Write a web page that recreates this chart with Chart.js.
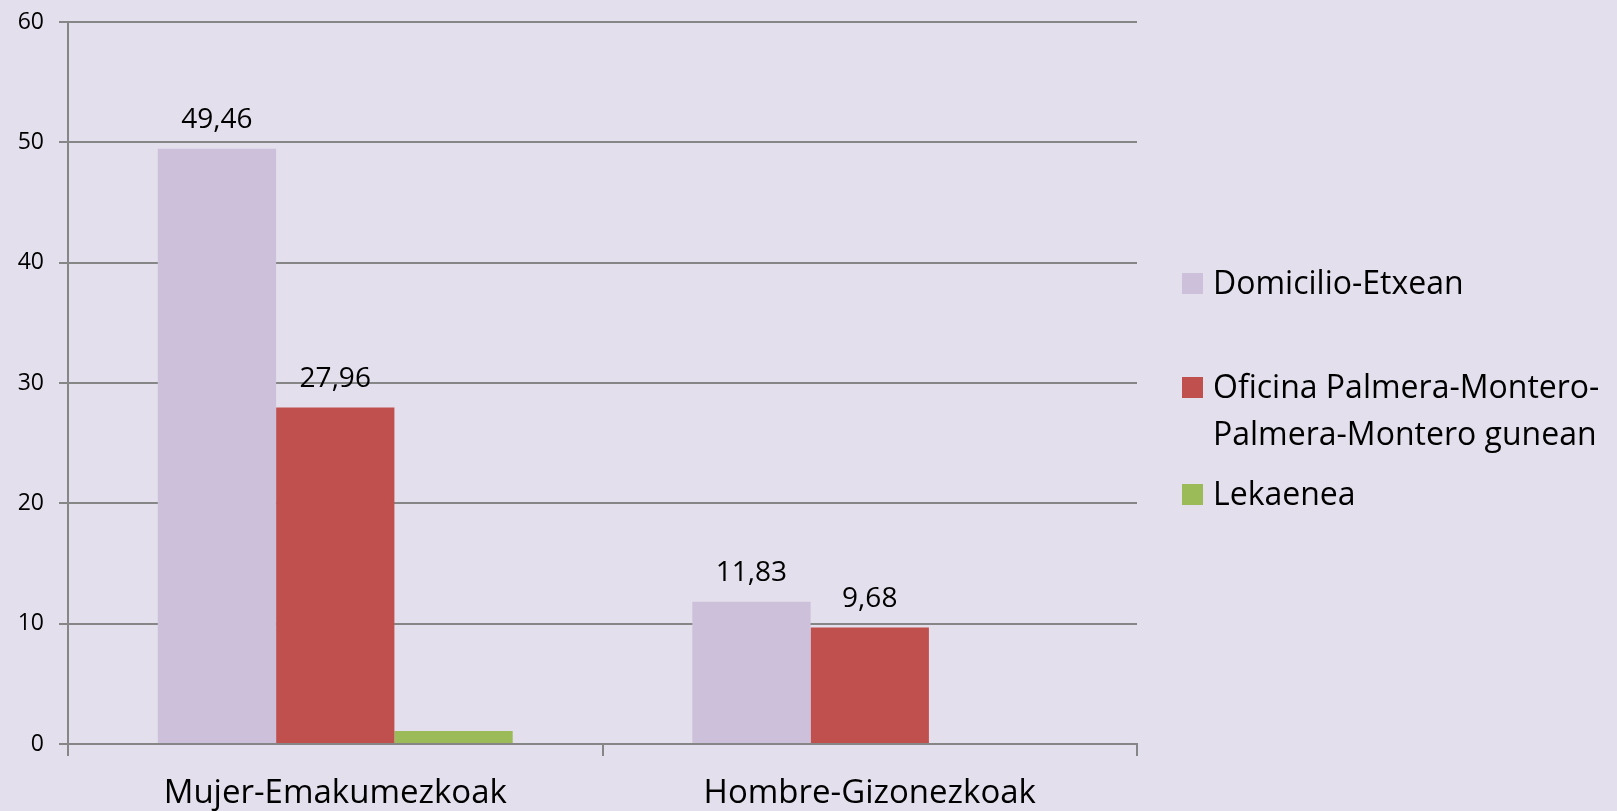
<!DOCTYPE html>
<html>
<head>
<meta charset="utf-8">
<script src="https://cdn.jsdelivr.net/npm/chart.js@4.4.1/dist/chart.umd.min.js"></script>
<style>
  html, body { margin: 0; padding: 0; background: #E4DFEC; }
  #wrap { position: relative; width: 1617px; height: 811px; background: #E4DFEC; }
  canvas { position: absolute; left: 0; top: 0; }
  .lg { position: absolute; left: 1182px; font-family: "Open Sans", sans-serif; font-size: 32px; color: #000; line-height: 47px; }
  .lg .sw { position: absolute; left: 0; width: 21px; height: 21px; }
  .lg .tx { position: absolute; left: 31px; top: 0; white-space: nowrap; }
</style>
</head>
<body>
<div id="wrap">
  <canvas id="c" width="1617" height="811"></canvas>
  <div id="legend"></div>
</div>
<script>
const categories = ["Mujer-Emakumezkoak", "Hombre-Gizonezkoak"];
const seriesNames = ["Domicilio-Etxean", ["Oficina Palmera-Montero-", "Palmera-Montero gunean"], "Lekaenea"];
const domicilio = [49.46, 11.83];
const oficina = [27.96, 9.68];
const lekaenea = [1.08, null];
const valueLabels = [["49,46", "11,83"], ["27,96", "9,68"], [null, null]];
const yTicks = [0, 10, 20, 30, 40, 50, 60];
const colors = ["#CCC0DA", "#C0504D", "#9BBB59"];

const FONT = "'Open Sans', sans-serif";

const dataLabelPlugin = {
  id: "dataLabels",
  afterDatasetsDraw(chart) {
    const ctx = chart.ctx;
    ctx.save();
    ctx.font = "28px " + FONT;
    ctx.fillStyle = "#000";
    ctx.textAlign = "center";
    ctx.textBaseline = "alphabetic";
    chart.data.datasets.forEach((ds, di) => {
      const meta = chart.getDatasetMeta(di);
      meta.data.forEach((bar, i) => {
        const lab = valueLabels[di][i];
        if (!lab) return;
        ctx.fillText(lab, bar.x, bar.y - 21);
      });
    });
    ctx.restore();
  }
};

const ctx = document.getElementById("c").getContext("2d");
new Chart(ctx, {
  type: "bar",
  data: {
    labels: categories,
    datasets: [
      { label: "Domicilio-Etxean", data: domicilio, backgroundColor: colors[0] },
      { label: "Oficina Palmera-Montero-Palmera-Montero gunean", data: oficina, backgroundColor: colors[1] },
      { label: "Lekaenea", data: lekaenea, backgroundColor: colors[2] }
    ]
  },
  options: {
    responsive: false,
    animation: false,
    devicePixelRatio: 1,
    layout: { padding: { left: 0, right: 480, top: 22, bottom: 0 } },
    datasets: { bar: { barPercentage: 1.0, categoryPercentage: 0.664, borderWidth: 0 } },
    plugins: { legend: { display: false }, tooltip: { enabled: false } },
    scales: {
      x: {
        grid: { offset: true, drawOnChartArea: false, color: "#868686", lineWidth: 2, tickLength: 12 },
        border: { display: true, color: "#868686", width: 2 },
        ticks: { color: "#000", font: { family: FONT, size: 33 }, padding: 18, maxRotation: 0 },
        afterFit(s) { s.height = 67; s.paddingLeft = 0; s.paddingRight = 0; }
      },
      y: {
        min: 0, max: 60,
        afterBuildTicks(s) { s.ticks = yTicks.map(v => ({ value: v })); },
        grid: { color: "#868686", lineWidth: 2, tickLength: 9 },
        border: { display: true, color: "#868686", width: 2 },
        ticks: { color: "#000", font: { family: FONT, size: 23 }, padding: 15 },
        afterFit(s) { s.width = 68; s.paddingTop = 0; s.paddingBottom = 0; }
      }
    }
  },
  plugins: [dataLabelPlugin]
});

// HTML legend
const legend = document.getElementById("legend");
const legendTops = [258, 362, 469];
seriesNames.forEach((name, i) => {
  const item = document.createElement("div");
  item.className = "lg";
  item.style.top = legendTops[i] + "px";
  const sw = document.createElement("div");
  sw.className = "sw";
  sw.style.background = colors[i];
  sw.style.top = "15px";
  const tx = document.createElement("div");
  tx.className = "tx";
  tx.innerHTML = Array.isArray(name) ? name.join("<br>") : name;
  item.appendChild(sw);
  item.appendChild(tx);
  legend.appendChild(item);
});
</script>
</body>
</html>
